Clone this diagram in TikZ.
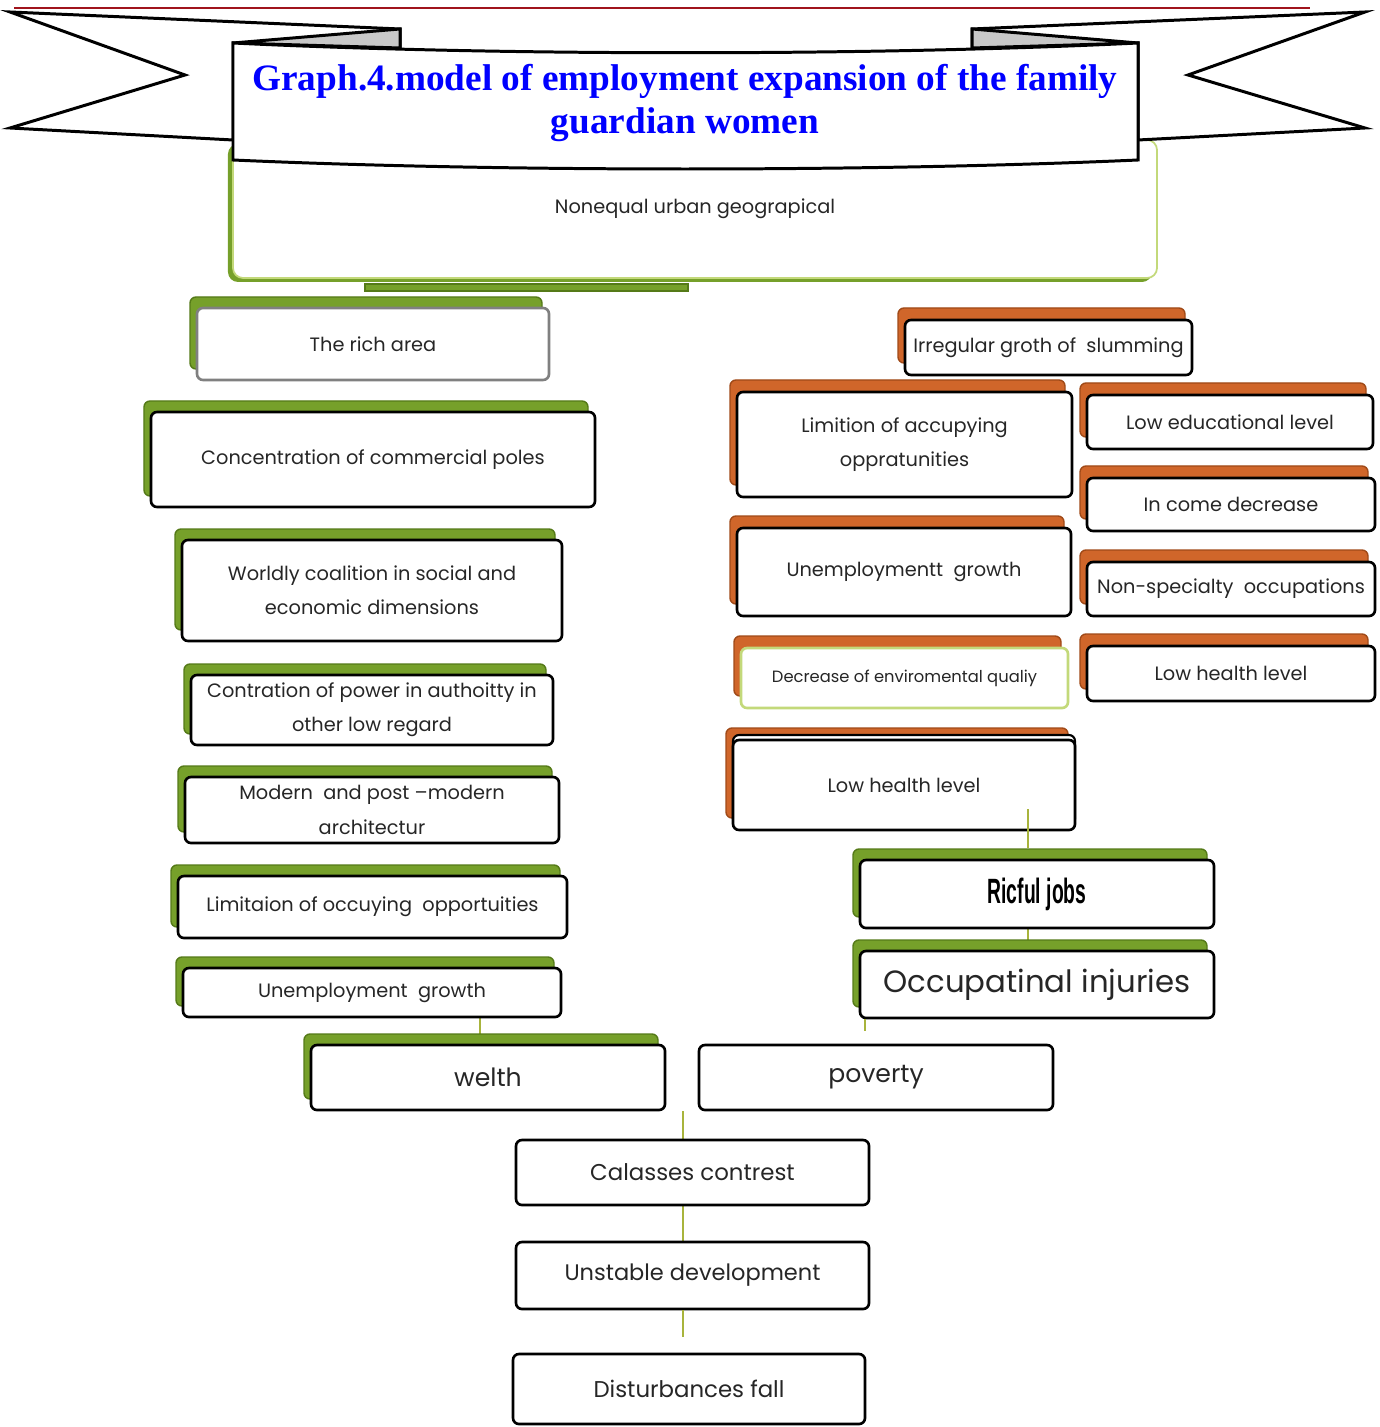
\documentclass[tikz,border=0pt]{standalone}
\usepackage{fontspec}
\newfontfamily\titlefont{Liberation Serif}
\newfontfamily\jobsfont{Liberation Sans}
\newfontfamily\gothic{Poppins}
\usetikzlibrary{calc}
\pgfdeclarelayer{background}
\pgfsetlayers{background,main}
\definecolor{gfill}{HTML}{76A02A}
\definecolor{gedge}{HTML}{557A18}
\definecolor{ofill}{HTML}{D0662A}
\definecolor{oedge}{HTML}{A04A18}
\definecolor{linkc}{HTML}{A8B43C}
\definecolor{lightg}{HTML}{C3D97A}
\definecolor{redline}{HTML}{A0141C}
\definecolor{foldc}{HTML}{C8C8C8}
\begin{document}
\begin{tikzpicture}[x=0.2mm, y=-0.2mm,
    box/.style={draw, line width=1.5pt, rounded corners=1.2mm, fill=white, align=center, inner sep=0pt,
      text=black!85, font=\gothic\fontsize{11}{19.5}\selectfont},
    gback/.style={preaction={fill=gfill, draw=gedge, line width=0.8pt, transform canvas={shift={(-7,-11)}}}},
    oback/.style={preaction={fill=ofill, draw=oedge, line width=0.8pt, transform canvas={shift={(-7,-12)}}}},
    link/.style={linkc, line width=1.2pt},
    banner/.style={draw, line width=1.7pt, line join=miter, fill=white}]
  \useasboundingbox (0,0) rectangle (1379,1427);

  % top box and title ribbon
  \node[box, draw=lightg, line width=1pt, rounded corners=2mm, minimum width=184.8mm, minimum height=27.6mm,
    preaction={fill=gfill, transform canvas={shift={(-5,4)}}}] (geo) at (695,209) {Nonequal urban geograpical};
  \draw[redline, line width=1.2pt] (14,8) -- (1310,8);
  \draw[banner] (10,12) -- (400,29) -- (400,48) -- (233,43) -- (233,140) -- (10,128) -- (185,75) -- cycle;
  \draw[banner, fill=foldc] (233,43) -- (400,29) -- (400,48) -- cycle;
  \draw[banner] (1365,12) -- (972,29) -- (972,48) -- (1138,43) -- (1138,140) -- (1365,128) -- (1188,75) -- cycle;
  \draw[banner, fill=foldc] (1138,43) -- (972,29) -- (972,48) -- cycle;
  \draw[banner] (233,43) .. controls (500,56) and (870,56) .. (1138,43) -- (1138,160)
    .. controls (870,172) and (500,172) .. (233,160) -- cycle;
  \node[font=\titlefont\bfseries\fontsize{21.2}{24.4}\selectfont, text=blue, align=center] (title) at (685,103)
    {Graph.4.model of employment expansion of the family\\guardian women};
  \draw[gedge, fill=gfill, line width=0.6pt] (365,284) rectangle (688,291);

  % rich side
  \node[box, gback, draw=gray, minimum width=70.4mm, minimum height=14.4mm] (rich) at (373,344) {The rich area};
  \node[box, gback, minimum width=88.8mm, minimum height=19mm] (poles) at (373,459.5) {Concentration of commercial poles};
  \node[box, gback, minimum width=76mm, minimum height=20.2mm] (coal) at (372,590.5) {Worldly coalition in social and\\economic dimensions};
  \node[box, gback, minimum width=72.4mm, minimum height=14mm] (power) at (372,710) {Contration of power in authoitty in\\other low regard};
  \node[box, gback, minimum width=74.8mm, minimum height=13.2mm] (modern) at (372,810) {Modern\ \ and post –modern\\architectur};
  \node[box, gback, minimum width=77.8mm, minimum height=12.4mm] (limit) at (372.5,907) {Limitaion of occuying\ \ opportuities};
  \node[box, gback, minimum width=75.6mm, minimum height=9.8mm] (unempL) at (372,992.5) {Unemployment\ \ growth};
  \node[box, gback, minimum width=70.8mm, minimum height=13mm, font=\gothic\fontsize{14.3}{16}\selectfont] (welth) at (488,1077.5) {welth};

  % slum side
  \node[box, oback, minimum width=57.4mm, minimum height=11mm] (slum) at (1048.5,347.5) {Irregular groth of\ \ slumming};
  \node[box, oback, minimum width=67mm, minimum height=21mm] (accup) at (904.5,444.5) {Limition of accupying\\oppratunities};
  \node[box, oback, minimum width=66.8mm, minimum height=17.6mm] (unempR) at (904,572) {Unemploymentt\ \ growth};
  \node[box, oback, draw=lightg, minimum width=65.4mm, minimum height=12mm, font=\gothic\fontsize{9.3}{11}\selectfont] (env) at (904.5,678) {Decrease of\ enviromental qualiy};
  \node[box, oback, preaction={draw, line width=1.2pt, fill=white, transform canvas={shift={(0,-5)}}},
    minimum width=68.4mm, minimum height=18mm] (healthA) at (904,785) {Low health level};
  \node[box, oback, minimum width=57.2mm, minimum height=10.8mm] (edu) at (1230,422) {Low educational level};
  \node[box, oback, minimum width=57.6mm, minimum height=10.6mm] (income) at (1231,504.5) {In come decrease};
  \node[box, oback, minimum width=57.6mm, minimum height=10.8mm] (nonspec) at (1231,589) {Non-specialty\ \ occupations};
  \node[box, oback, minimum width=57.6mm, minimum height=11mm] (healthB) at (1231,673.5) {Low health level};
  \node[box, gback, minimum width=70.8mm, minimum height=13.6mm, text=black, font=\jobsfont\bfseries\fontsize{20}{22}\selectfont] (jobs) at (1037,894) {\scalebox{0.55}[1]{Ricful jobs}};
  \node[box, gback, minimum width=70.8mm, minimum height=13.4mm, font=\gothic\fontsize{17.5}{20}\selectfont] (injur) at (1037,984.5) {Occupatinal\ injuries};
  \node[box, minimum width=70.8mm, minimum height=13mm, font=\gothic\fontsize{14.3}{16}\selectfont] (poverty) at (876,1077.5) {poverty};

  % outcome chain
  \node[box, minimum width=70.6mm, minimum height=13mm, font=\gothic\fontsize{13}{15}\selectfont] (class) at (692.5,1172.5) {Calasses contrest};
  \node[box, minimum width=70.6mm, minimum height=13.4mm, font=\gothic\fontsize{12.8}{15}\selectfont] (unstab) at (692.5,1275.5) {Unstable development};
  \node[box, minimum width=70.4mm, minimum height=14mm, font=\gothic\fontsize{13}{15}\selectfont] (dist) at (689,1389) {Disturbances fall};

  % links
  \coordinate (c1) at (480,0);
  \coordinate (c2) at (1028,0);
  \coordinate (c3) at (865,0);
  \coordinate (c4) at (683,0);
  \begin{pgfonlayer}{background}
    \draw[link] (unempL.south -| c1) -- (welth.north -| c1);
    \draw[link] (jobs.south -| c2) -- (injur.north -| c2);
    \draw[link] (welth.south -| c4) -- (class.north -| c4);
    \draw[link] (class.south -| c4) -- (unstab.north -| c4);
  \end{pgfonlayer}
  \draw[link] ($(healthA.south -| c2)+(0,-22)$) -- ($(jobs.north -| c2)+(0,-11)$);
  \draw[link] (injur.south -| c3) -- ++(0,12);
  \draw[link] (unstab.south -| c4) -- ++(0,27);
\end{tikzpicture}
\end{document}
